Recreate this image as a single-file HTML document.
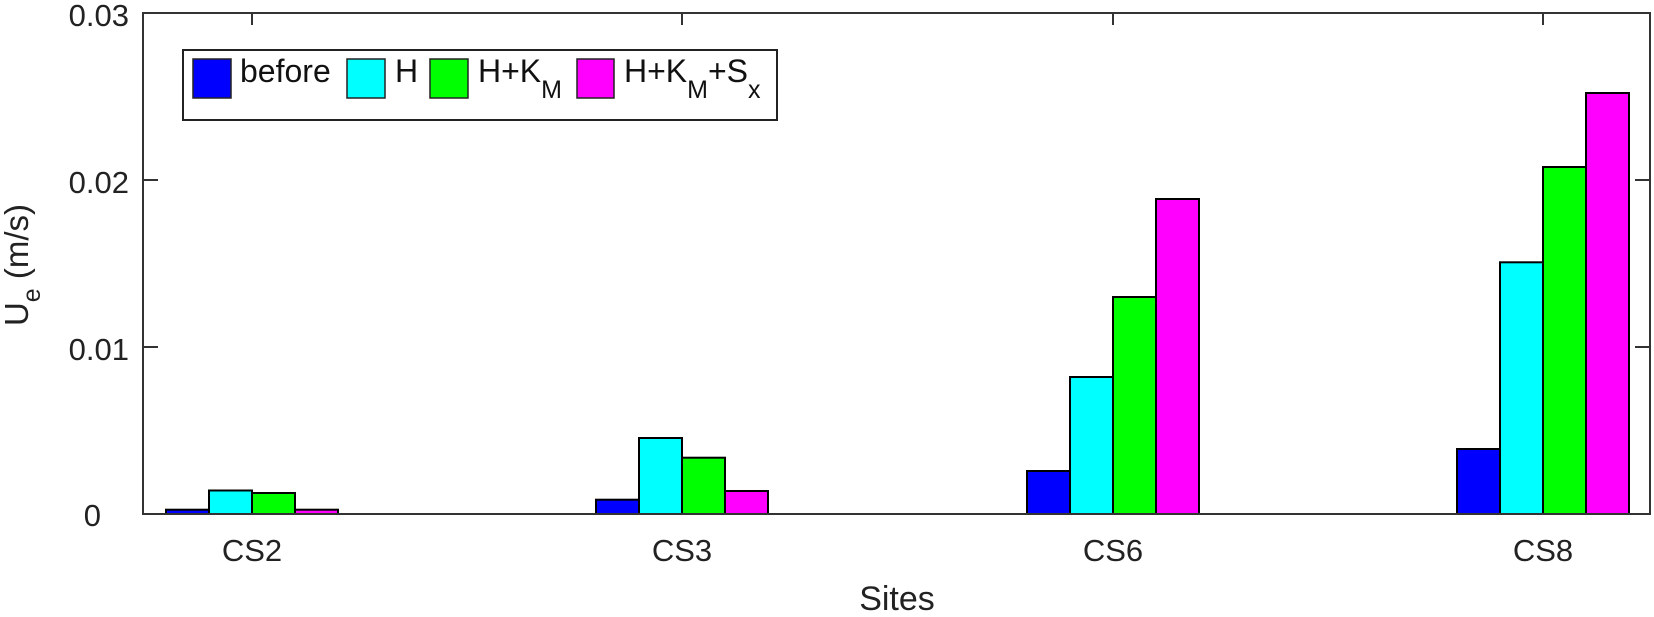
<!DOCTYPE html>
<html><head><meta charset="utf-8"><style>
html,body{margin:0;padding:0;background:#fff;}
svg{display:block;font-family:"Liberation Sans",Arial,sans-serif;}
</style></head><body>
<svg width="1654" height="617" viewBox="0 0 1654 617" xmlns="http://www.w3.org/2000/svg">
<rect width="1654" height="617" fill="#fff"/>
<g stroke="#000" stroke-width="2">
<!-- CS2 -->
<rect x="166" y="509.7" width="43" height="4.3" fill="#0000ff"/>
<rect x="209" y="490.5" width="43" height="23.5" fill="#00ffff"/>
<rect x="252" y="493" width="43" height="21" fill="#00ff00"/>
<rect x="295" y="509.7" width="43" height="4.3" fill="#ff00ff"/>
<!-- CS3 -->
<rect x="596" y="499.7" width="43" height="14.3" fill="#0000ff"/>
<rect x="639" y="438" width="43" height="76" fill="#00ffff"/>
<rect x="682" y="457.7" width="43" height="56.3" fill="#00ff00"/>
<rect x="725" y="491" width="43" height="23" fill="#ff00ff"/>
<!-- CS6 -->
<rect x="1027" y="471" width="43" height="43" fill="#0000ff"/>
<rect x="1070" y="377" width="43" height="137" fill="#00ffff"/>
<rect x="1113" y="297" width="43" height="217" fill="#00ff00"/>
<rect x="1156" y="199" width="43" height="315" fill="#ff00ff"/>
<!-- CS8 -->
<rect x="1457" y="449" width="43" height="65" fill="#0000ff"/>
<rect x="1500" y="262.3" width="43" height="251.7" fill="#00ffff"/>
<rect x="1543" y="167" width="43" height="347" fill="#00ff00"/>
<rect x="1586" y="93" width="43" height="421" fill="#ff00ff"/>
</g>
<!-- axes box -->
<rect x="143" y="13" width="1507" height="501" fill="none" stroke="#333" stroke-width="2"/>
<g stroke="#333" stroke-width="2">
<line x1="143" y1="347" x2="158" y2="347"/><line x1="143" y1="180" x2="158" y2="180"/>
<line x1="1650" y1="347" x2="1635" y2="347"/><line x1="1650" y1="180" x2="1635" y2="180"/>
<line x1="252" y1="13" x2="252" y2="25"/><line x1="682" y1="13" x2="682" y2="25"/>
<line x1="1113" y1="13" x2="1113" y2="25"/><line x1="1543" y1="13" x2="1543" y2="25"/>
</g>
<g font-size="31" fill="#222" text-anchor="end">
<text x="129" y="26">0.03</text>
<text x="129" y="193">0.02</text>
<text x="129" y="360">0.01</text>
<text x="101" y="526">0</text>
</g>
<g font-size="31" fill="#222" text-anchor="middle">
<text x="252" y="561">CS2</text>
<text x="682" y="561">CS3</text>
<text x="1113" y="561">CS6</text>
<text x="1543" y="561">CS8</text>
<text x="897" y="610" font-size="34">Sites</text>
</g>
<text transform="translate(28,265) rotate(-90)" font-size="33" fill="#222" text-anchor="middle">U<tspan font-size="25" dy="12">e</tspan><tspan dy="-12"> (m/s)</tspan></text>
<!-- legend -->
<rect x="183" y="50" width="594" height="70" fill="#fff" stroke="#222" stroke-width="2"/>
<g stroke="#222" stroke-width="1.5">
<rect x="193" y="59" width="38" height="39" fill="#0000ff"/>
<rect x="347" y="59" width="38" height="39" fill="#00ffff"/>
<rect x="430" y="59" width="38" height="39" fill="#00ff00"/>
<rect x="577" y="59" width="37" height="39" fill="#ff00ff"/>
</g>
<g font-size="32" fill="#111">
<text x="240" y="82">before</text>
<text x="395" y="82">H</text>
<text x="478" y="82">H+K<tspan font-size="25" dy="16">M</tspan></text>
<text x="624" y="82">H+K<tspan font-size="25" dy="16">M</tspan><tspan dy="-16">+S</tspan><tspan font-size="25" dy="16">x</tspan></text>
</g>
</svg>
</body></html>
